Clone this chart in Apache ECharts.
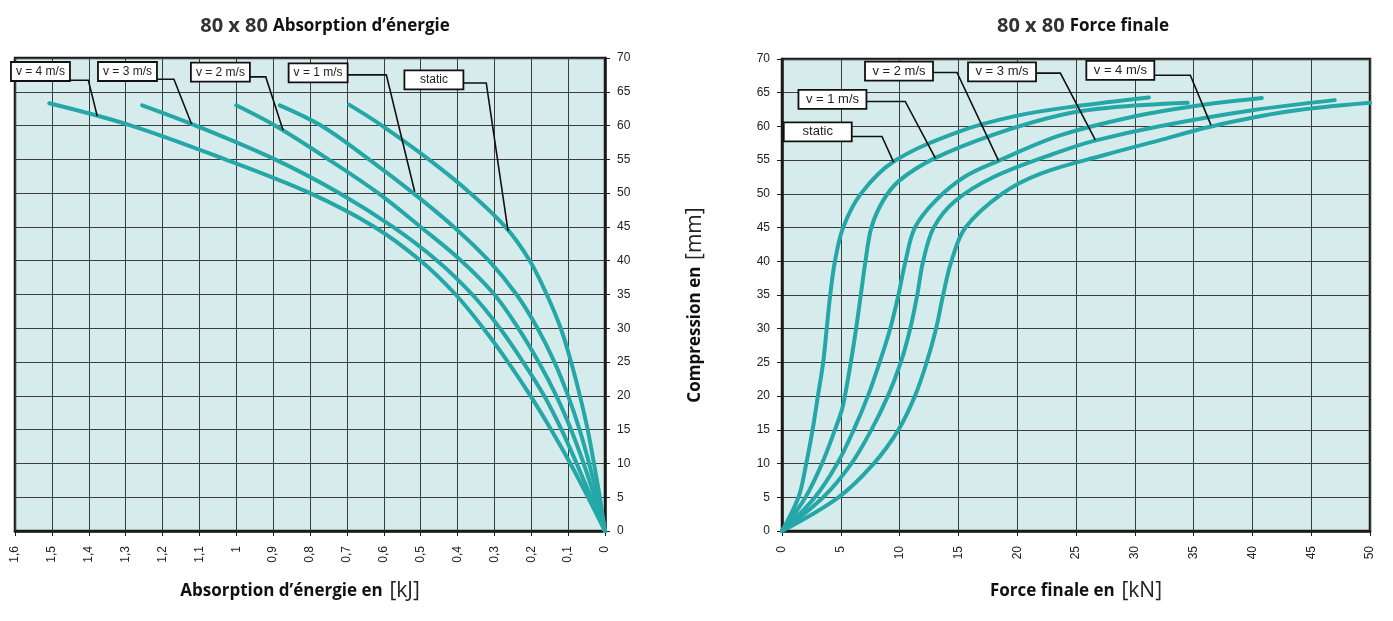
<!DOCTYPE html>
<html>
<head>
<meta charset="utf-8">
<title>80 x 80 Absorption d'énergie / Force finale</title>
<script src="https://cdn.jsdelivr.net/npm/echarts@6/dist/echarts.min.js"></script>
<style>
    html, body { margin: 0; padding: 0; background: #ffffff; }
    #chart { width: 1393px; height: 621px; }
</style>
</head>
<body>
<div id="chart"></div>
<script>
// Curve data, as [x, compression mm] pairs

// Left chart: energy absorption (kJ) vs compression (mm)
const energyStatic = [[0,0],[0.014,5],[0.03,10],[0.047,15],[0.068,20],[0.092,25],[0.12,30],[0.158,35],[0.204,40],[0.27,45],[0.365,50],[0.478,55],[0.605,60],[0.694,63.1]];
const energyV1 = [[0,0],[0.02,5],[0.043,10],[0.069,15],[0.1,20],[0.137,25],[0.183,30],[0.24,35],[0.315,40],[0.41,45],[0.52,50],[0.64,55],[0.77,60],[0.882,63]];
const energyV2 = [[0,0],[0.028,5],[0.058,10],[0.092,15],[0.132,20],[0.18,25],[0.235,30],[0.3,35],[0.39,40],[0.5,45],[0.615,50],[0.75,55],[0.895,60],[1.0,63]];
const energyV3 = [[0,0],[0.038,5],[0.077,10],[0.118,15],[0.165,20],[0.222,25],[0.285,30],[0.36,35],[0.455,40],[0.575,45],[0.72,50],[0.895,55],[1.11,60],[1.255,63]];
const energyV4 = [[0,0],[0.046,5],[0.094,10],[0.146,15],[0.202,20],[0.263,25],[0.33,30],[0.405,35],[0.5,40],[0.625,45],[0.8,50],[1.03,55],[1.285,60],[1.507,63.3]];

// Right chart: final force (kN) vs compression (mm)
const forceStatic = [[0,0],[1.4,5],[2.06,10],[2.6,15],[3.05,20],[3.5,25],[3.8,30],[4.1,35],[4.5,40],[5.2,45],[6.7,50],[9.5,54.8],[15,59.2],[20,61.6],[25,63.0],[31.2,64.3]];
const forceV1 = [[0,0],[2.0,5],[3.4,10],[4.5,15],[5.1,18],[5.35,20],[5.85,25],[6.3,30],[6.7,35],[7.1,40],[7.6,45],[8.6,49],[10,52],[13,55.3],[18,58.8],[23.7,61.7],[28,62.8],[34.5,63.5]];
const forceV2 = [[0,0],[2.8,5],[4.7,10],[6.1,15],[7.3,20],[8.3,25],[9.2,30],[9.9,35],[10.5,40],[11.3,45],[13,48.9],[15.5,52.5],[18.4,54.9],[23.7,58.7],[30,61.5],[35,63.0],[40.8,64.2]];
const forceV3 = [[0,0],[3.5,5],[5.9,10],[7.6,15],[9.0,20],[10.1,25],[10.9,30],[11.5,35],[12.0,40],[12.9,45],[14.7,48.9],[18,52.5],[23.7,56.3],[26.6,57.9],[32,60],[40,62.4],[47,63.9]];
const forceV4 = [[0,0],[4.8,5],[7.8,10],[9.9,15],[11.3,20],[12.3,25],[13.1,30],[13.7,35],[14.4,40],[15.6,45],[18.7,50],[22,53],[27.5,55.8],[32,57.9],[36.5,60.0],[43,62.2],[50,63.5]];

// Series names (labels of the callouts)
const curveNames = ['static', 'v = 1 m/s', 'v = 2 m/s', 'v = 3 m/s', 'v = 4 m/s'];

// Callouts: box centre, elbow and target, all in data coordinates
const energyCallouts = [
    { text: 'v = 4 m/s', box: [1.531, 68.0], elbow: [1.401, 66.7], target: [1.377, 61.4] },
    { text: 'v = 3 m/s', box: [1.295, 68.0], elbow: [1.169, 66.85], target: [1.121, 60.2] },
    { text: 'v = 2 m/s', box: [1.043, 67.9], elbow: [0.920, 67.2], target: [0.873, 59.3] },
    { text: 'v = 1 m/s', box: [0.778, 67.8], elbow: [0.593, 67.5], target: [0.516, 50.2] },
    { text: 'static', box: [0.464, 66.75], elbow: [0.322, 66.3], target: [0.263, 44.4] }
];
const forceCallouts = [
    { text: 'static', box: [3.04, 59.2], elbow: [8.50, 58.5], target: [9.49, 54.7] },
    { text: 'v = 1 m/s', box: [4.29, 64.0], elbow: [10.48, 63.7], target: [13.04, 55.3] },
    { text: 'v = 2 m/s', box: [9.95, 68.2], elbow: [14.88, 68.0], target: [18.42, 54.9] },
    { text: 'v = 3 m/s', box: [18.71, 68.1], elbow: [23.67, 67.9], target: [26.64, 58.0] },
    { text: 'v = 4 m/s', box: [28.77, 68.3], elbow: [34.72, 67.6], target: [36.48, 60.2] }
];

const TEAL = '#25a7a7';
const GRID_BG = '#d6ecec';
const LABEL_FONT = '"Liberation Sans", Arial, sans-serif';
const TITLE_FONT = '"Open Sans", "Noto Sans", sans-serif';

document.addEventListener('DOMContentLoaded', function() {
    initChart();
});

function curveSeries(data, xIndex, yIndex, name) {
    return {
        name: name,
        type: 'line',
        xAxisIndex: xIndex,
        yAxisIndex: yIndex,
        data: data,
        smooth: 0.35,
        showSymbol: false,
        lineStyle: { color: TEAL, width: 4, cap: 'round' },
        silent: true,
        animation: false
    };
}

function valueAxisCommon() {
    return {
        type: 'value',
        axisLine: { show: true, lineStyle: { color: '#1a1a1a', width: 2.5 } },
        axisTick: { show: true, length: 5, lineStyle: { color: '#1a1a1a', width: 1 } },
        splitLine: { show: true, lineStyle: { color: '#3c3c3c', width: 1 } },
        axisLabel: { color: '#222', fontFamily: LABEL_FONT, fontSize: 12 }
    };
}

function initChart() {
    const chart = echarts.init(document.getElementById('chart'), null, { renderer: 'canvas' });

    const nameRich = {
        b: { fontFamily: TITLE_FONT, fontWeight: 'bold', fontSize: 17, color: '#111' },
        u: { fontFamily: TITLE_FONT, fontWeight: 'normal', fontSize: 21, color: '#222' }
    };
    const titleRich = {
        a: { fontFamily: TITLE_FONT, fontSize: 20, color: '#333' },
        b: { fontFamily: TITLE_FONT, fontSize: 17, fontWeight: 'bold', color: '#111' }
    };

    const option = {
        backgroundColor: '#ffffff',
        animation: false,
        title: [
            {
                text: '{a|80 x 80} {b|Absorption d’énergie}',
                left: 320, top: 11, textAlign: 'center',
                textStyle: { rich: titleRich }
            },
            {
                text: '{a|80 x 80} {b|Force finale}',
                left: 1078, top: 11, textAlign: 'center',
                textStyle: { rich: titleRich }
            }
        ],
        grid: [
            { left: 15, top: 58, width: 590, height: 473, show: true, backgroundColor: GRID_BG, borderColor: '#1a1a1a', borderWidth: 2.5 },
            { left: 782, top: 59, width: 588, height: 472, show: true, backgroundColor: GRID_BG, borderColor: '#1a1a1a', borderWidth: 2.5 }
        ],
        xAxis: [
            Object.assign(valueAxisCommon(), {
                gridIndex: 0, min: 0, max: 1.6, interval: 0.1, inverse: true,
                name: '{b|Absorption d’énergie en}  {u|[kJ]}',
                nameLocation: 'middle', nameGap: 50,
                nameTextStyle: { rich: nameRich, padding: [0, 20, 0, 0] },
                axisLabel: {
                    color: '#222', fontFamily: LABEL_FONT, fontSize: 12, rotate: 90, margin: 15,
                    formatter: v => String(Number(v.toFixed(1))).replace('.', ',')
                }
            }),
            Object.assign(valueAxisCommon(), {
                gridIndex: 1, min: 0, max: 50, interval: 5,
                name: '{b|Force finale en}  {u|[kN]}',
                nameLocation: 'middle', nameGap: 50,
                nameTextStyle: { rich: nameRich },
                axisLabel: { color: '#222', fontFamily: LABEL_FONT, fontSize: 12, rotate: 90, margin: 15 }
            })
        ],
        yAxis: [
            Object.assign(valueAxisCommon(), {
                gridIndex: 0, min: 0, max: 70, interval: 5, position: 'right',
                axisLabel: { color: '#222', fontFamily: LABEL_FONT, fontSize: 12, margin: 12 }
            }),
            Object.assign(valueAxisCommon(), {
                gridIndex: 1, min: 0, max: 70, interval: 5, position: 'left',
                name: '{b|Compression en}  {u|[mm]}',
                nameLocation: 'middle', nameGap: 76, nameRotate: 90,
                nameTextStyle: { rich: nameRich, padding: [0, 20, 0, 0] },
                axisLabel: { color: '#222', fontFamily: LABEL_FONT, fontSize: 12, margin: 12 }
            })
        ],
        series: [
            curveSeries(energyStatic, 0, 0, curveNames[0]),
            curveSeries(energyV1, 0, 0, curveNames[1]),
            curveSeries(energyV2, 0, 0, curveNames[2]),
            curveSeries(energyV3, 0, 0, curveNames[3]),
            curveSeries(energyV4, 0, 0, curveNames[4]),
            curveSeries(forceStatic, 1, 1, curveNames[0]),
            curveSeries(forceV1, 1, 1, curveNames[1]),
            curveSeries(forceV2, 1, 1, curveNames[2]),
            curveSeries(forceV3, 1, 1, curveNames[3]),
            curveSeries(forceV4, 1, 1, curveNames[4])
        ]
    };

    chart.setOption(option);
    drawCallouts(chart, energyCallouts, 0, 59, 12);
    drawCallouts(chart, forceCallouts, 1, 68, 13);
}

// Boxed labels with elbow leader lines, placed through the grid's own scales
function drawCallouts(chart, callouts, gridIndex, boxWidth, fontSize) {
    const boxHeight = 19;
    const elements = [];
    callouts.forEach(c => {
        const centre = chart.convertToPixel({ gridIndex: gridIndex }, c.box);
        const elbow = chart.convertToPixel({ gridIndex: gridIndex }, c.elbow);
        const target = chart.convertToPixel({ gridIndex: gridIndex }, c.target);
        const right = centre[0] + boxWidth / 2;

        elements.push({
            type: 'polyline',
            z: 100,
            shape: { points: [[right, elbow[1]], elbow, target] },
            style: { stroke: '#111', lineWidth: 1.6, fill: null }
        });
        elements.push({
            type: 'rect',
            z: 101,
            shape: { x: centre[0] - boxWidth / 2, y: centre[1] - boxHeight / 2, width: boxWidth, height: boxHeight },
            style: { fill: '#ffffff', stroke: '#111', lineWidth: 1.8 }
        });
        elements.push({
            type: 'text',
            z: 102,
            x: centre[0], y: centre[1],
            style: {
                text: c.text, fill: '#222', font: fontSize + 'px ' + LABEL_FONT,
                align: 'center', verticalAlign: 'middle'
            }
        });
    });
    const existing = chart.getOption().graphic;
    const prev = existing && existing[0] && existing[0].elements ? existing[0].elements : [];
    chart.setOption({ graphic: { elements: prev.concat(elements) } });
}
</script>
</body>
</html>
